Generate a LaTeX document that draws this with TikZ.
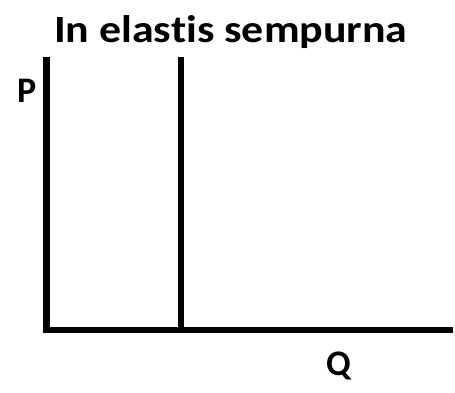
\documentclass[tikz,border=0pt]{standalone}
\usepackage{fontspec}
\setmainfont{Carlito}[Ligatures=NoCommon]
\begin{document}
\begin{tikzpicture}[x=1pt,y=-1pt,
  axis/.style={line width=6.5pt},
  lbl/.style={inner sep=0pt,font=\bfseries\fontsize{36}{36}\selectfont},
  ttl/.style={inner sep=0pt,xscale=1.14,font=\bfseries\fontsize{38.5}{38.5}\selectfont}]
\useasboundingbox[fill=white] (0,0) rectangle (455,393);
\node[ttl,anchor=base west] (title) at (54,43) {In elastis sempurna};
\node[lbl,anchor=base west] (P) at (17,103) {P};
\node[lbl,anchor=base west] (Q) at (326,375) {Q};
\coordinate (top) at (46.5,57);
\coordinate (origin) at (46.5,330);
\coordinate (xend) at (453,330);
\coordinate (vtop) at (181,57);
\coordinate (vbot) at (181,330);
\draw[axis] (top) -- (origin -| top) ++(-3.25,0) -- (xend);
\draw[axis] (vtop) -- (vbot);
\end{tikzpicture}
\end{document}
